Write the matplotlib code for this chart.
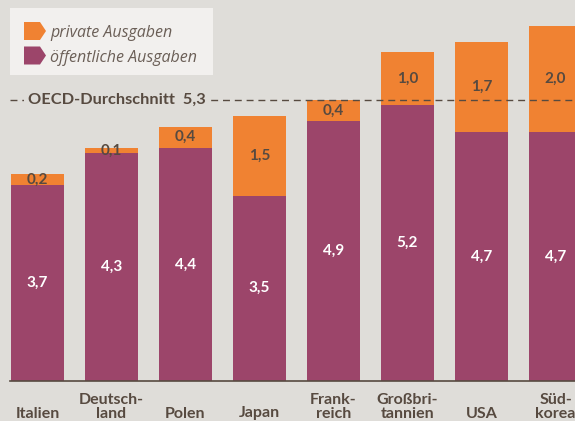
import matplotlib
matplotlib.use("Agg")
import matplotlib.pyplot as plt
from matplotlib.patches import Polygon

categories = ["Italien", "Deutsch-\nland", "Polen", "Japan", "Frank-\nreich",
              "Großbri-\ntannien", "USA", "Süd-\nkorea"]
public = [3.7, 4.3, 4.4, 3.5, 4.9, 5.2, 4.7, 4.7]
private = [0.2, 0.1, 0.4, 1.5, 0.4, 1.0, 1.7, 2.0]
public_labels = ["3,7", "4,3", "4,4", "3,5", "4,9", "5,2", "4,7", "4,7"]
private_labels = ["0,2", "0,1", "0,4", "1,5", "0,4", "1,0", "1,7", "2,0"]
oecd_avg = 5.3
oecd_label = "OECD-Durchschnitt  5,3"
legend_labels = ["private Ausgaben", "öffentliche Ausgaben"]

BG = "#dfddd9"
PURPLE = "#9c456a"
ORANGE = "#f08232"
DARK = "#574a40"

plt.rcParams['font.family'] = ['Lato', 'DejaVu Sans']

W, H = 575, 421
fig = plt.figure(figsize=(W / 100, H / 100), dpi=100, facecolor=BG)
ax = fig.add_axes([0, 0, 1, 1])
ax.set_facecolor(BG)

pitch = 74.0
x0 = 37.5
ax.set_xlim((0 - x0) / pitch, (W - x0) / pitch)
ypx = 53.0
base = 381.0
ax.set_ylim(-(H - base) / ypx, base / ypx)
ax.axis("off")

xs = list(range(len(categories)))
bw = 53 / pitch
ax.bar(xs, public, width=bw, color=PURPLE, zorder=2)
ax.bar(xs, private, width=bw, bottom=public, color=ORANGE, zorder=2)

for x, p, q, pl, ql in zip(xs, public, private, public_labels, private_labels):
    ax.text(x, p / 2, pl, ha="center", va="center", color="white",
            fontsize=11, fontweight="bold", zorder=4)
    ax.text(x, p + q / 2, ql, ha="center", va="center", color=DARK,
            fontsize=11, fontweight="bold", zorder=4)

# baseline axis
ax.plot([(10 - x0) / pitch, (W - x0) / pitch], [0, 0], color=DARK, lw=1.2, zorder=3)

# category labels
ylab = -(420.5 - base) / ypx
for x, c in zip(xs, categories):
    ax.text(x, ylab, c, ha="center", va="bottom", color=DARK, fontsize=11.5,
            fontweight="bold", linespacing=1.0)

# OECD line
ax.plot([(10 - x0) / pitch, (W - x0) / pitch], [oecd_avg, oecd_avg], color=DARK,
        lw=1.0, linestyle=(0, (5, 3.5)), zorder=3)
ax.text((28 - x0) / pitch, oecd_avg, oecd_label, ha="left", va="center",
        color=DARK, fontsize=11.8, fontweight="bold", zorder=5,
        bbox=dict(boxstyle="square,pad=0.25", facecolor=BG, edgecolor="none"))

# legend box
def fx(px):
    return px / W

def fy(py):
    return 1 - py / H

box = Polygon([(fx(10), fy(8)), (fx(213), fy(8)), (fx(213), fy(75)), (fx(10), fy(75))],
              closed=True, transform=fig.transFigure, facecolor="#f2f0ee",
              edgecolor="none", zorder=6)
fig.add_artist(box)

def marker(cy, color):
    pts = [(24, cy - 9), (40, cy - 9), (46, cy), (40, cy + 9), (24, cy + 9)]
    poly = Polygon([(fx(a), fy(b)) for a, b in pts], closed=True,
                   transform=fig.transFigure, facecolor=color, edgecolor="none", zorder=7)
    fig.add_artist(poly)

for my, ty, color, lab in zip([31, 55.5], [33, 57.5], [ORANGE, PURPLE], legend_labels):
    marker(my, color)
    fig.text(fx(50), fy(ty), lab, ha="left", va="center", color="#6b5f57",
             fontsize=11.5, fontstyle="italic", family=["Open Sans", "DejaVu Sans"],
             zorder=8)

fig.savefig("out.png", dpi=100, facecolor=BG)
